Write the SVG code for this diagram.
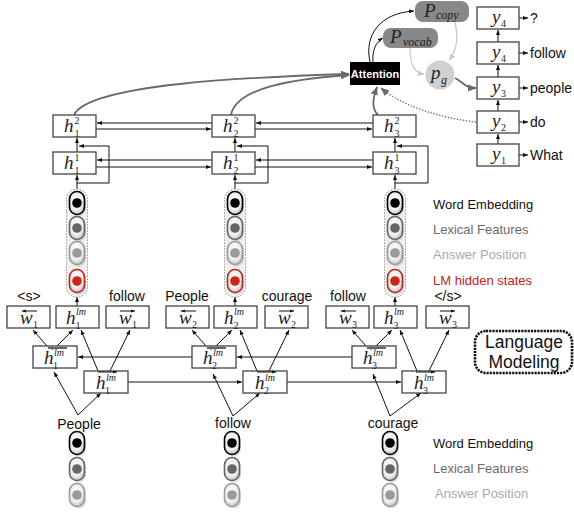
<svg xmlns="http://www.w3.org/2000/svg" width="574" height="514" viewBox="0 0 574 514">
<defs>
<style>
.box{fill:#fff;stroke:#444;stroke-width:1.3}
.lb{font-family:"Liberation Sans",Arial,sans-serif;font-size:14px;fill:#111}
.leg{font-family:"Liberation Sans",Arial,sans-serif;font-size:13px}
.m{font-family:"Liberation Serif","Times New Roman",serif;font-style:italic;font-size:19px;fill:#222}
.sb{font-family:"Liberation Serif","Times New Roman",serif;font-size:10px;fill:#222}
.sm{font-family:"Liberation Serif","Times New Roman",serif;font-style:italic;font-size:10px;fill:#222}
.si{font-family:"Liberation Serif","Times New Roman",serif;font-style:italic;font-size:12px;fill:#222}
.a{fill:none;stroke:#111;stroke-width:1;marker-end:url(#ah)}
.g{fill:none;stroke:#6a6a6a;stroke-width:1.8;marker-end:url(#ag)}
.gd{fill:none;stroke:#777;stroke-width:1.4;stroke-dasharray:1.5 1.5;marker-end:url(#ag)}
.lg{fill:none;stroke:#c8c8c8;stroke-width:1.2;marker-end:url(#al)}
.ob{fill:none;stroke:#666;stroke-width:2;marker-end:url(#ahg)}
.ot{fill:none;stroke:#111;stroke-width:1;marker-end:url(#ahs)}
.stk{fill:#efefef;stroke:#999;stroke-width:1;stroke-dasharray:1.5 1.5}
</style>
<marker id="ah" viewBox="0 0 10 10" refX="10" refY="5" markerWidth="5" markerHeight="5" markerUnits="userSpaceOnUse" orient="auto"><path d="M0,1L10,5L0,9z" fill="#111"/></marker>
<marker id="ahs" viewBox="0 0 10 10" refX="10" refY="5" markerWidth="4" markerHeight="4" markerUnits="userSpaceOnUse" orient="auto"><path d="M0,1L10,5L0,9z" fill="#111"/></marker>
<marker id="ahg" viewBox="0 0 10 10" refX="10" refY="5" markerWidth="5" markerHeight="5" markerUnits="userSpaceOnUse" orient="auto"><path d="M0,1L10,5L0,9z" fill="#666"/></marker>
<marker id="ag" viewBox="0 0 10 10" refX="9" refY="5" markerWidth="9" markerHeight="9" markerUnits="userSpaceOnUse" orient="auto"><path d="M0,1L10,5L0,9z" fill="#6a6a6a"/></marker>
<marker id="al" viewBox="0 0 10 10" refX="9" refY="5" markerWidth="7" markerHeight="7" markerUnits="userSpaceOnUse" orient="auto"><path d="M0,1L10,5L0,9z" fill="#c8c8c8"/></marker>
<radialGradient id="cg" cx="0.45" cy="0.4" r="0.7"><stop offset="0" stop-color="#ffffff"/><stop offset="0.6" stop-color="#eeeeee"/><stop offset="1" stop-color="#a8a8a8"/></radialGradient>
<g id="capK"><rect x="-6" y="-9.5" width="15" height="23" rx="7.5" fill="#bbb" opacity="0.5"/><rect x="-7.5" y="-11.5" width="15" height="23" rx="7.5" fill="url(#cg)" stroke="#000" stroke-width="1.6"/><circle r="4.8" fill="#000"/></g>
<g id="capD"><rect x="-6" y="-9.5" width="15" height="23" rx="7.5" fill="#bbb" opacity="0.5"/><rect x="-7.5" y="-11.5" width="15" height="23" rx="7.5" fill="url(#cg)" stroke="#666" stroke-width="1.6"/><circle r="4.8" fill="#666"/></g>
<g id="capL"><rect x="-6" y="-9.5" width="15" height="23" rx="7.5" fill="#bbb" opacity="0.5"/><rect x="-7.5" y="-11.5" width="15" height="23" rx="7.5" fill="url(#cg)" stroke="#9a9a9a" stroke-width="1.6"/><circle r="4.8" fill="#9a9a9a"/></g>
<g id="capR"><rect x="-6" y="-9.5" width="15" height="23" rx="7.5" fill="#bbb" opacity="0.5"/><rect x="-7.5" y="-11.5" width="15" height="23" rx="7.5" fill="url(#cg)" stroke="#c0261a" stroke-width="1.6"/><circle r="4.8" fill="#c8261a"/></g>
</defs>
<rect width="574" height="514" fill="#fff"/>

<g id="connectors">
<path class="a" d="M212,123H97"/><path class="a" d="M96,129H211"/>
<path class="a" d="M373,123H256"/><path class="a" d="M255,129H372"/>
<path class="a" d="M212,160H97"/><path class="a" d="M96,167H211"/>
<path class="a" d="M373,160H256"/><path class="a" d="M255,167H372"/>
<path class="a" d="M77,152V138"/><path class="a" d="M235,152V138"/><path class="a" d="M395,152V138"/>
<path class="a" d="M77,189V175"/><path class="a" d="M235,189V175"/><path class="a" d="M395,189V175"/>
<path class="a" d="M77,183H109V146H79"/><path class="a" d="M235,183H268V146H237"/><path class="a" d="M395,183H428V146H397"/>
<path class="a" d="M192,357H78"/><path class="a" d="M352,357H237"/>
<path class="a" d="M128,382H242"/><path class="a" d="M287,382H401"/>
<path class="a" d="M47,346L33,330"/><path class="a" d="M57,346L73,330"/><path class="a" d="M98,371L81,330"/><path class="a" d="M110,371L130,330"/>
<path class="a" d="M206,346L192,330"/><path class="a" d="M216,346L232,330"/><path class="a" d="M257,371L240,330"/><path class="a" d="M269,371L289,330"/>
<path class="a" d="M366,346L352,330"/><path class="a" d="M376,346L392,330"/><path class="a" d="M417,371L400,330"/><path class="a" d="M429,371L449,330"/>
<path class="a" d="M77,306V297"/><path class="a" d="M235,306V297"/><path class="a" d="M395,306V297"/>
<path class="a" d="M78,415L54,372"/><path class="a" d="M78,415L101,393"/>
<path class="a" d="M233,416L213,374"/><path class="a" d="M233,416L260,393"/>
<path class="a" d="M390,416L373,374"/><path class="a" d="M390,416L421,393"/>
<path class="g" d="M74,115C88,84 250,77 349,74"/>
<path class="g" d="M231,115C236,88 292,79 349,75"/>
<path class="g" d="M378,115C371,108 373,98 377,87"/>
<path class="gd" d="M476,122C440,118 402,106 381,88"/>
<path class="a" d="M370,62C364,35 380,13 414,11"/>
<path class="a" d="M373,62C372,50 376,42 383,38"/>
<path class="lg" d="M410,48C410,65 414,73 424,74"/>
<path class="lg" d="M455,22C459,40 456,52 449,60"/>
<path class="g" d="M455,78C463,82 465,88 476,88"/>
<path class="a" d="M498,144V134"/><path class="a" d="M498,111V100"/><path class="a" d="M498,77V65"/><path class="a" d="M498,42V30"/>
<path class="a" d="M519,18H528"/><path class="a" d="M519,53H528"/><path class="a" d="M519,88H528"/><path class="a" d="M519,122H528"/><path class="a" d="M519,155H528"/>
</g>

<g id="h1_2" transform="translate(53,115)"><rect class="box" width="43" height="22"/><text class="m" x="11" y="17">h</text><text class="sb" x="21.5" y="9">2</text><text class="sb" x="21.5" y="22">1</text></g>
<g id="h2_2" transform="translate(212,115)"><rect class="box" width="43" height="22"/><text class="m" x="11" y="17">h</text><text class="sb" x="21.5" y="9">2</text><text class="sb" x="21.5" y="22">2</text></g>
<g id="h3_2" transform="translate(373,115)"><rect class="box" width="43" height="22"/><text class="m" x="11" y="17">h</text><text class="sb" x="21.5" y="9">2</text><text class="sb" x="21.5" y="22">3</text></g>
<g id="h1_1" transform="translate(53,152)"><rect class="box" width="43" height="22"/><text class="m" x="11" y="17">h</text><text class="sb" x="21.5" y="9">1</text><text class="sb" x="21.5" y="22">1</text></g>
<g id="h2_1" transform="translate(212,152)"><rect class="box" width="43" height="22"/><text class="m" x="11" y="17">h</text><text class="sb" x="21.5" y="9">1</text><text class="sb" x="21.5" y="22">2</text></g>
<g id="h3_1" transform="translate(373,152)"><rect class="box" width="43" height="22"/><text class="m" x="11" y="17">h</text><text class="sb" x="21.5" y="9">1</text><text class="sb" x="21.5" y="22">3</text></g>

<g id="stack1" transform="translate(77,0)"><rect class="stk" x="-10.5" y="189" width="21" height="108" rx="10"/><use href="#capK" y="203"/><use href="#capD" y="228"/><use href="#capL" y="253"/><use href="#capR" y="281"/></g>
<g id="stack2" transform="translate(235,0)"><rect class="stk" x="-10.5" y="189" width="21" height="108" rx="10"/><use href="#capK" y="203"/><use href="#capD" y="228"/><use href="#capL" y="253"/><use href="#capR" y="281"/></g>
<g id="stack3" transform="translate(395,0)"><rect class="stk" x="-10.5" y="189" width="21" height="108" rx="10"/><use href="#capK" y="203"/><use href="#capD" y="228"/><use href="#capL" y="253"/><use href="#capR" y="281"/></g>

<g id="legend_top">
<text class="leg" x="433" y="209" fill="#111">Word Embedding</text>
<text class="leg" x="433" y="234" fill="#6a6a6a">Lexical Features</text>
<text class="leg" x="433" y="259" fill="#aaaaaa">Answer Position</text>
<text class="leg" x="433" y="285" fill="#c0261a">LM hidden states</text>
</g>

<g id="toplabels">
<text class="lb" x="29" y="301" text-anchor="middle">&lt;s&gt;</text>
<text class="lb" x="127" y="301" text-anchor="middle">follow</text>
<text class="lb" x="187" y="301" text-anchor="middle">People</text>
<text class="lb" x="287" y="301" text-anchor="middle">courage</text>
<text class="lb" x="348" y="301" text-anchor="middle">follow</text>
<text class="lb" x="448" y="301" text-anchor="middle">&lt;/s&gt;</text>
</g>

<g id="wb1" transform="translate(7,306)"><rect class="box" width="43" height="22"/><path class="ot" d="M30,5H15"/><text class="m" x="13" y="18">w</text><text class="sb" x="26" y="22">1</text></g>
<g id="hlm1" transform="translate(56,306)"><rect class="box" width="43" height="22"/><text class="m" x="10" y="18">h</text><text class="sm" x="20" y="9">lm</text><text class="sb" x="19.5" y="23">1</text></g>
<g id="wf1" transform="translate(106,306)"><rect class="box" width="43" height="22"/><path class="ot" d="M14,5H29"/><text class="m" x="13" y="18">w</text><text class="sb" x="26" y="22">1</text></g>
<g id="wb2" transform="translate(166,306)"><rect class="box" width="43" height="22"/><path class="ot" d="M30,5H15"/><text class="m" x="13" y="18">w</text><text class="sb" x="26" y="22">2</text></g>
<g id="hlm2" transform="translate(214,306)"><rect class="box" width="43" height="22"/><text class="m" x="10" y="18">h</text><text class="sm" x="20" y="9">lm</text><text class="sb" x="19.5" y="23">2</text></g>
<g id="wf2" transform="translate(265,306)"><rect class="box" width="43" height="22"/><path class="ot" d="M14,5H29"/><text class="m" x="13" y="18">w</text><text class="sb" x="26" y="22">2</text></g>
<g id="wb3" transform="translate(326,306)"><rect class="box" width="43" height="22"/><path class="ot" d="M30,5H15"/><text class="m" x="13" y="18">w</text><text class="sb" x="26" y="22">3</text></g>
<g id="hlm3" transform="translate(374,306)"><rect class="box" width="43" height="22"/><text class="m" x="10" y="18">h</text><text class="sm" x="20" y="9">lm</text><text class="sb" x="19.5" y="23">3</text></g>
<g id="wf3" transform="translate(426,306)"><rect class="box" width="43" height="22"/><path class="ot" d="M14,5H29"/><text class="m" x="13" y="18">w</text><text class="sb" x="26" y="22">3</text></g>

<g id="lmb1" transform="translate(33,346)"><rect class="box" width="44" height="22"/><path class="ob" d="M34,2H15"/><text class="m" x="11" y="18">h</text><text class="sm" x="21" y="10">lm</text><text class="sb" x="20" y="23">1</text></g>
<g id="lmf1" transform="translate(84,371)"><rect class="box" width="44" height="22"/><path class="ot" d="M14,1H33"/><text class="m" x="12" y="18">h</text><text class="sm" x="22" y="10">lm</text><text class="sb" x="21" y="23">1</text></g>
<g id="lmb2" transform="translate(192,346)"><rect class="box" width="44" height="22"/><path class="ob" d="M34,2H15"/><text class="m" x="11" y="18">h</text><text class="sm" x="21" y="10">lm</text><text class="sb" x="20" y="23">2</text></g>
<g id="lmf2" transform="translate(243,371)"><rect class="box" width="44" height="22"/><path class="ot" d="M14,1H33"/><text class="m" x="12" y="18">h</text><text class="sm" x="22" y="10">lm</text><text class="sb" x="21" y="23">2</text></g>
<g id="lmb3" transform="translate(352,346)"><rect class="box" width="44" height="22"/><path class="ob" d="M34,2H15"/><text class="m" x="11" y="18">h</text><text class="sm" x="21" y="10">lm</text><text class="sb" x="20" y="23">3</text></g>
<g id="lmf3" transform="translate(402,371)"><rect class="box" width="44" height="22"/><path class="ot" d="M14,1H33"/><text class="m" x="12" y="18">h</text><text class="sm" x="22" y="10">lm</text><text class="sb" x="21" y="23">3</text></g>

<g id="langmodel"><rect x="475" y="331" width="97" height="42" rx="11" fill="#fff" stroke="#111" stroke-width="2.6" stroke-dasharray="2.2 1"/><text x="524" y="348" text-anchor="middle" font-family="Liberation Sans, Arial, sans-serif" font-size="17.5" fill="#111">Language</text><text x="524" y="368" text-anchor="middle" font-family="Liberation Sans, Arial, sans-serif" font-size="17.5" fill="#111">Modeling</text></g>

<g id="words">
<text class="lb" x="79" y="429" text-anchor="middle">People</text>
<text class="lb" x="233" y="428" text-anchor="middle">follow</text>
<text class="lb" x="393" y="428" text-anchor="middle">courage</text>
</g>

<g id="emb1" transform="translate(77,0)"><use href="#capK" y="443"/><use href="#capD" y="469"/><use href="#capL" y="495"/></g>
<g id="emb2" transform="translate(232,0)"><use href="#capK" y="443"/><use href="#capD" y="469"/><use href="#capL" y="495"/></g>
<g id="emb3" transform="translate(390,0)"><use href="#capK" y="443"/><use href="#capD" y="469"/><use href="#capL" y="495"/></g>

<g id="legend_bottom">
<text class="leg" x="433" y="448" fill="#111">Word Embedding</text>
<text class="leg" x="433" y="473" fill="#6a6a6a">Lexical Features</text>
<text class="leg" x="435" y="498" fill="#aaaaaa">Answer Position</text>
</g>

<g id="attention"><rect x="350" y="62" width="50" height="23" fill="#000"/><text x="375" y="78" text-anchor="middle" font-family="Liberation Sans, Arial, sans-serif" font-size="11" font-weight="bold" fill="#fff">Attention</text></g>
<g id="pcopy"><rect x="415" y="1" width="54" height="21" rx="8" fill="#888"/><text class="m" x="424" y="16.5" font-size="17" fill="#111">P</text><text class="si" x="436" y="19">copy</text></g>
<g id="pvocab"><rect x="383" y="28" width="55" height="20" rx="8" fill="#888"/><text class="m" x="390" y="43" font-size="18">P</text><text class="si" x="403" y="46">vocab</text></g>
<g id="pg"><circle cx="440" cy="75" r="14.5" fill="#d0d0d0"/><text class="m" x="431" y="79">p</text><text class="si" x="441" y="84">g</text></g>

<g id="y5" transform="translate(477,7)"><rect class="box" width="42" height="22"/><text class="m" x="15" y="16">y</text><text class="sb" x="24" y="20">4</text></g>
<g id="y4" transform="translate(477,42)"><rect class="box" width="42" height="22"/><text class="m" x="15" y="16">y</text><text class="sb" x="24" y="20">4</text></g>
<g id="y3" transform="translate(477,77)"><rect class="box" width="42" height="22"/><text class="m" x="15" y="16">y</text><text class="sb" x="24" y="20">3</text></g>
<g id="y2" transform="translate(477,111)"><rect class="box" width="42" height="22"/><text class="m" x="15" y="16">y</text><text class="sb" x="24" y="20">2</text></g>
<g id="y1" transform="translate(477,144)"><rect class="box" width="42" height="22"/><text class="m" x="15" y="16">y</text><text class="sb" x="24" y="20">1</text></g>
<g id="outwords">
<text class="lb" x="530" y="23">?</text>
<text class="lb" x="530" y="58">follow</text>
<text class="lb" x="530" y="93">people</text>
<text class="lb" x="530" y="127">do</text>
<text class="lb" x="530" y="160">What</text>
</g>
</svg>
